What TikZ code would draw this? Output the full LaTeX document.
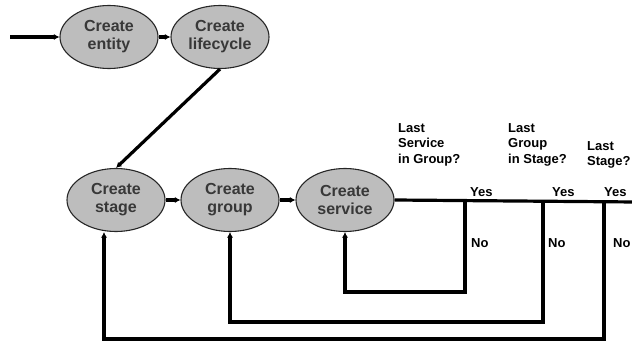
\documentclass[tikz,border=0pt]{standalone}
\usepackage{fontspec}
\setmainfont{Liberation Sans}
\usetikzlibrary{arrows.meta,shapes.geometric}
\begin{document}
\begin{tikzpicture}[x=1pt,y=-1pt,
  task/.style={ellipse,draw=black!85,line width=1.1pt,fill=black!26,
    minimum width=98pt,minimum height=63pt,inner sep=0pt,
    align=center,font=\bfseries\fontsize{16}{18}\selectfont,text=black!78},
  flow/.style={line width=3.2pt,-{Latex[length=5.5pt,width=6pt]}},
  link/.style={line width=3.2pt},
  note/.style={font=\bfseries\fontsize{13}{15.5}\selectfont,align=left,anchor=north west,inner sep=0pt}]
\useasboundingbox (0,0) rectangle (632,342);
% process steps
\node[task] (entity) at (109,37) {Create\\entity};
\node[task] (life) at (220,37) {Create\\lifecycle};
\node[task] (stage) at (116,200) {Create\\stage};
\node[task] (group) at (230,200) {Create\\group};
\node[task] (service) at (345,200) {Create\\service};
% helper points of the loop-back paths
\coordinate (in) at (10,37);
\coordinate (out) at (636,202);
\coordinate (d1) at (465,202);
\coordinate (d2) at (543,202);
\coordinate (d3) at (604,202);
\coordinate (b1) at (465,292);
\coordinate (b2) at (543,322);
\coordinate (b3) at (604,339);
% main chain
\draw[flow] (in) -- (entity);
\draw[flow] (entity) -- (life);
\draw[flow] (life.south) -- (stage.north);
\draw[flow] (stage) -- (group);
\draw[flow] (group) -- (service);
\draw[link] (service.east) -- (out);
% loops back
\draw[flow] (d1) -- (b1) -| (service.south);
\draw[flow] (d2) -- (b2) -| (group.south);
\draw[flow] (d3) -- (b3) -| ([xshift=-12pt]stage.south);
% decision labels
\node[note] (q1) at (398,123) {Last\\Service\\in Group?};
\node[note] (q2) at (508,123) {Last\\Group\\in Stage?};
\node[note] (q3) at (587,141) {Last\\Stage?};
\node[note] (y1) at (470,187) {Yes};
\node[note] (y2) at (552,187) {Yes};
\node[note] (y3) at (604,187) {Yes};
\node[note] (n1) at (471,238) {No};
\node[note] (n2) at (548,238) {No};
\node[note] (n3) at (613,238) {No};
\end{tikzpicture}
\end{document}
